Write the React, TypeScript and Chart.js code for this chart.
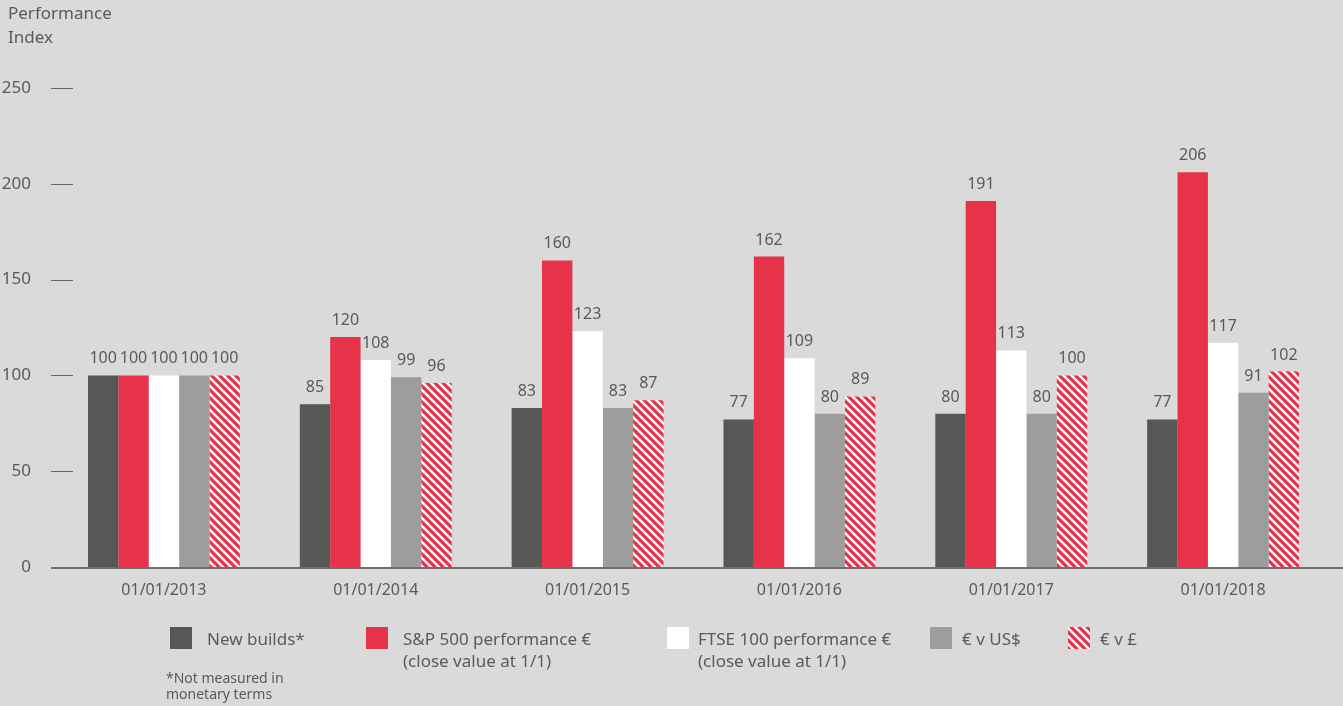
import { useEffect, useRef } from 'react';
import { Chart, registerables } from 'chart.js';

Chart.register(...registerables);

const categories = ['01/01/2013', '01/01/2014', '01/01/2015', '01/01/2016', '01/01/2017', '01/01/2018'];
const newBuilds = [100, 85, 83, 77, 80, 77];
const sp500 = [100, 120, 160, 162, 191, 206];
const ftse100 = [100, 108, 123, 109, 113, 117];
const eurUsd = [100, 99, 83, 80, 80, 91];
const eurGbp = [100, 96, 87, 89, 100, 102];
const seriesNames = ['New builds*', 'S&P 500 performance €', 'FTSE 100 performance €', '€ v US$', '€ v £'];
const seriesSubNames = ['', '(close value at 1/1)', '(close value at 1/1)', '', ''];
const yTicks = [0, 50, 100, 150, 200, 250];
const titleLines = ['Performance', 'Index'];
const footnoteLines = ['*Not measured in', 'monetary terms'];

const FONT = "'Noto Sans', sans-serif";
const TEXT = '#5a5a5a';
const BG = '#dadada';
const DARK = '#575756';
const RED = '#e6334a';
const WHITE = '#ffffff';
const GREY = '#9d9d9c';

function makeHatch(): CanvasPattern | string {
  const c = document.createElement('canvas');
  c.width = 8;
  c.height = 8;
  const g = c.getContext('2d');
  if (!g) return RED;
  g.fillStyle = RED;
  g.fillRect(0, 0, 8, 8);
  g.strokeStyle = WHITE;
  g.lineWidth = 2.4;
  g.beginPath();
  for (const o of [-8, 0, 8]) {
    g.moveTo(o - 1, -1);
    g.lineTo(o + 9, 9);
  }
  g.stroke();
  return g.createPattern(c, 'repeat') || RED;
}

const legendSwatchX = [170, 366, 667, 930, 1068];
const legendTextX = [207, 403, 698, 962, 1100];

const overlayPlugin = {
  id: 'overlay',
  afterDatasetsDraw(chart: any) {
    const ctx = chart.ctx as CanvasRenderingContext2D;
    ctx.save();
    ctx.font = `16px ${FONT}`;
    ctx.fillStyle = TEXT;
    ctx.textAlign = 'center';
    ctx.textBaseline = 'alphabetic';
    chart.data.datasets.forEach((ds: any, i: number) => {
      const meta = chart.getDatasetMeta(i);
      meta.data.forEach((bar: any, j: number) => {
        ctx.fillText(String(ds.data[j]), bar.x, bar.y - 12);
      });
    });
    // baseline
    const yScale = chart.scales.y;
    const y0 = yScale.getPixelForValue(0);
    ctx.fillStyle = '#6e6e6e';
    ctx.fillRect(51, Math.round(y0), chart.width - 51, 2);
    // y tick dashes
    ctx.strokeStyle = '#666';
    ctx.lineWidth = 1;
    yTicks.forEach((t) => {
      if (t === 0) return;
      const y = Math.round(yScale.getPixelForValue(t)) + 0.5;
      ctx.beginPath();
      ctx.moveTo(51, y);
      ctx.lineTo(73, y);
      ctx.stroke();
    });
    ctx.restore();
  },
  afterDraw(chart: any) {
    const ctx = chart.ctx as CanvasRenderingContext2D;
    ctx.save();
    ctx.fillStyle = TEXT;
    ctx.textAlign = 'left';
    ctx.textBaseline = 'alphabetic';
    ctx.font = `17px ${FONT}`;
    ctx.fillText(titleLines[0], 8, 19);
    ctx.fillText(titleLines[1], 8, 43);
    // legend
    chart.data.datasets.forEach((ds: any, i: number) => {
      ctx.fillStyle = ds.backgroundColor;
      ctx.fillRect(legendSwatchX[i], 627, 22, 22);
      ctx.fillStyle = TEXT;
      ctx.font = `17px ${FONT}`;
      ctx.fillText(seriesNames[i], legendTextX[i], 645);
      if (seriesSubNames[i]) ctx.fillText(seriesSubNames[i], legendTextX[i], 667);
    });
    ctx.font = `14px ${FONT}`;
    ctx.fillText(footnoteLines[0], 166, 683);
    ctx.fillText(footnoteLines[1], 166, 699);
    ctx.restore();
  },
};

export default function App() {
  const ref = useRef<HTMLCanvasElement>(null);
  useEffect(() => {
    if (!ref.current) return;
    const hatch = makeHatch();
    const chart = new Chart(ref.current, {
      type: 'bar',
      data: {
        labels: categories,
        datasets: [
          { label: seriesNames[0], data: newBuilds, backgroundColor: DARK },
          { label: seriesNames[1], data: sp500, backgroundColor: RED },
          { label: seriesNames[2], data: ftse100, backgroundColor: WHITE },
          { label: seriesNames[3], data: eurUsd, backgroundColor: GREY },
          { label: seriesNames[4], data: eurGbp, backgroundColor: hatch as any },
        ],
      },
      options: {
        animation: false,
        responsive: true,
        maintainAspectRatio: false,
        layout: { padding: { top: 88, right: 14, left: 0, bottom: 0 } },
        datasets: { bar: { categoryPercentage: 0.717, barPercentage: 1, borderWidth: 0 } },
        plugins: { legend: { display: false }, tooltip: { enabled: false } },
        scales: {
          x: {
            grid: { display: false },
            border: { display: false },
            ticks: { font: { family: FONT, size: 16 }, color: TEXT, padding: 6, maxRotation: 0 },
            afterFit: (s: any) => { s.height = 139; },
          },
          y: {
            min: 0,
            max: 250,
            grid: { display: false },
            border: { display: false },
            ticks: {
              stepSize: 50,
              font: { family: FONT, size: 17 },
              color: TEXT,
              padding: 19,
            },
            afterFit: (s: any) => { s.width = 58; },
          },
        },
      },
      plugins: [overlayPlugin],
    });
    return () => chart.destroy();
  }, []);
  return (
    <div style={{ position: 'absolute', left: 0, top: 0, width: 1343, height: 706, background: BG }}>
      <canvas ref={ref} />
    </div>
  );
}
